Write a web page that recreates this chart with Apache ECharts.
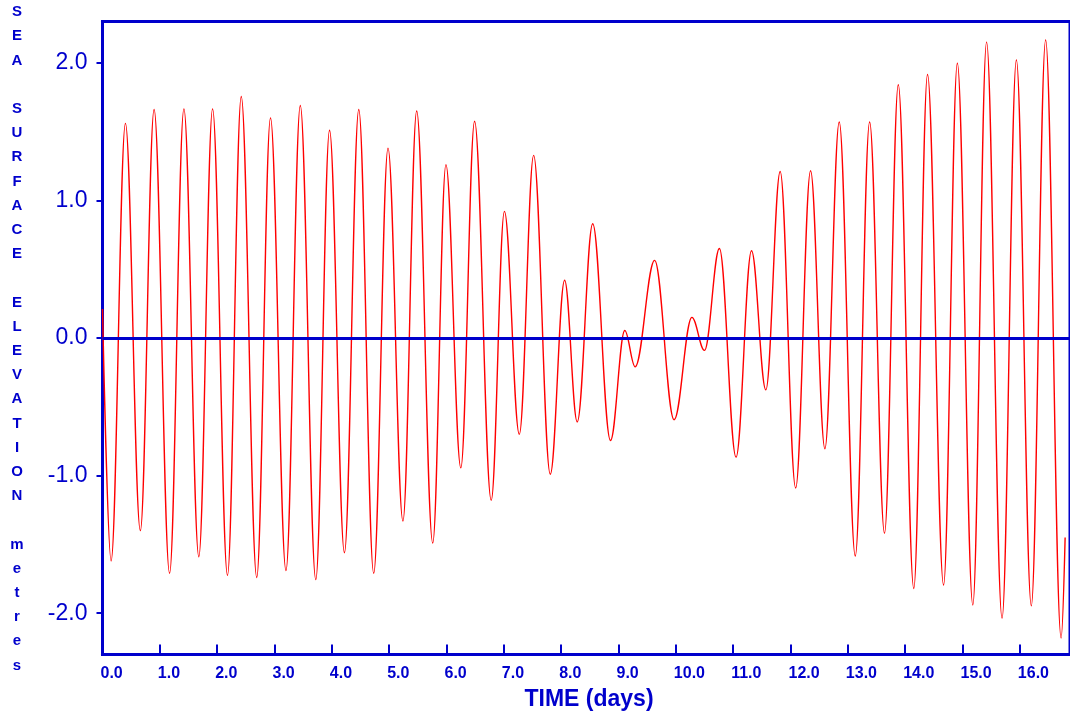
<!DOCTYPE html>
<html>
<head>
<meta charset="utf-8">
<script src="https://cdn.jsdelivr.net/npm/echarts@6/dist/echarts.min.js"></script>
<style>
html,body{margin:0;padding:0;background:#fff;}
#chart{width:1070px;height:712px;}
</style>
</head>
<body>
<div id="chart"></div>
<script>
// Time (days) of each turning point
const days = [0.00, 0.15, 0.40, 0.66, 0.90, 1.17, 1.42, 1.68, 1.92, 2.18, 2.42, 2.69, 2.93, 3.20, 3.45, 3.72, 3.96, 4.22, 4.47, 4.73, 4.98, 5.24, 5.48, 5.76, 5.99, 6.25, 6.49, 6.78, 7.01, 7.27, 7.52, 7.81, 8.06, 8.28, 8.55, 8.86, 9.11, 9.29, 9.63, 9.97, 10.28, 10.50, 10.76, 11.05, 11.32, 11.57, 11.82, 12.09, 12.35, 12.60, 12.85, 13.13, 13.38, 13.64, 13.88, 14.15, 14.39, 14.67, 14.91, 15.18, 15.42, 15.69, 15.94, 16.20, 16.45, 16.72, 16.79];
// Sea surface elevation (metres) at those points
const elevation = [0.21, -1.62, 1.56, -1.40, 1.66, -1.71, 1.665, -1.59, 1.665, -1.725, 1.755, -1.74, 1.60, -1.69, 1.69, -1.756, 1.51, -1.56, 1.66, -1.71, 1.38, -1.33, 1.65, -1.49, 1.26, -0.944, 1.575, -1.18, 0.92, -0.70, 1.327, -0.99, 0.42, -0.61, 0.83, -0.745, 0.054, -0.21, 0.564, -0.594, 0.15, -0.09, 0.65, -0.866, 0.634, -0.377, 1.21, -1.09, 1.215, -0.805, 1.57, -1.584, 1.57, -1.418, 1.84, -1.82, 1.915, -1.795, 1.997, -1.94, 2.15, -2.036, 2.02, -1.946, 2.166, -2.18, -1.45];
const xTicks = [0, 1, 2, 3, 4, 5, 6, 7, 8, 9, 10, 11, 12, 13, 14, 15, 16];
const yTicks = [-2, -1, 0, 1, 2];
const yTitleLines = ['S','E','A','','S','U','R','F','A','C','E','','E','L','E','V','A','T','I','O','N','','m','e','t','r','e','s'];
const xTitle = 'TIME (days)';

const BLUE = '#0000CC';
const FONT = '"Liberation Sans", Arial, sans-serif';

const chart = echarts.init(document.getElementById('chart'), null, {renderer: 'canvas'});
const seriesData = days.map((d, i) => [d, elevation[i]]);

chart.setOption({
  animation: false,
  backgroundColor: '#ffffff',
  grid: {
    left: 102.5, top: 21.5, width: 972, height: 633,
    show: true, borderColor: BLUE, borderWidth: 3, backgroundColor: 'transparent'
  },
  xAxis: {
    type: 'value', min: 0, max: 16.875,
    axisLine: {show: true, onZero: false, lineStyle: {color: BLUE, width: 3}},
    axisTick: {show: true, inside: true, length: 10, lineStyle: {color: BLUE, width: 2}, customValues: xTicks},
    axisLabel: {
      show: true, customValues: xTicks, color: BLUE, fontFamily: FONT, fontWeight: 'bold', fontSize: 16,
      align: 'left', margin: 11, padding: [0, 0, 0, -2],
      formatter: v => v.toFixed(1)
    },
    splitLine: {show: false}
  },
  yAxis: {
    type: 'value', min: -2.3, max: 2.3,
    axisLine: {show: true, onZero: false, lineStyle: {color: BLUE, width: 3}},
    axisTick: {show: true, inside: false, length: 6, lineStyle: {color: BLUE, width: 2}, customValues: yTicks},
    axisLabel: {
      show: true, customValues: yTicks, color: BLUE, fontFamily: FONT, fontSize: 23,
      margin: 15, formatter: v => v.toFixed(1)
    },
    splitLine: {show: false}
  },
  graphic: [
    {
      type: 'text', x: 17, y: 0,
      style: {
        text: yTitleLines.join('\n'), fill: BLUE, font: 'bold 15px ' + FONT,
        align: 'center', verticalAlign: 'top', lineHeight: 24.2
      }
    },
    {
      type: 'text', x: 589, y: 700,
      style: {
        text: xTitle, fill: BLUE, font: 'bold 23px ' + FONT,
        align: 'center', verticalAlign: 'middle'
      }
    }
  ],
  series: [{
    type: 'line',
    data: seriesData,
    smooth: 0.37,
    smoothMonotone: 'x',
    showSymbol: false,
    clip: true,
    lineStyle: {color: '#FF0000', width: 1.4},
    markLine: {
      silent: true, symbol: 'none', label: {show: false},
      lineStyle: {color: BLUE, width: 3, type: 'solid'},
      data: [{yAxis: 0}]
    }
  }]
});
</script>
</body>
</html>
